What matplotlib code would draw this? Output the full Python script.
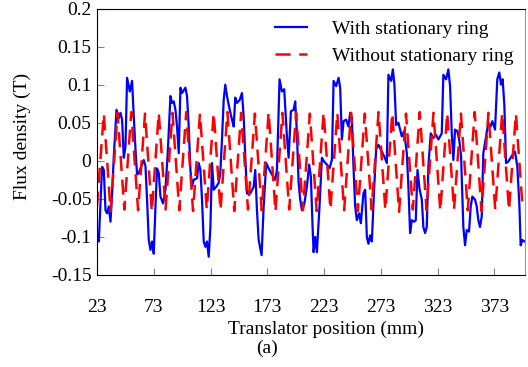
import numpy as np
import matplotlib
matplotlib.use("Agg")
import matplotlib.pyplot as plt

# Flux density with stationary ring (blue, solid)
blue_pos = [23.0, 24.6, 27.5, 29.0, 30.5, 31.9, 33.4, 34.9, 36.3, 37.8, 40.2, 42.2, 43.7, 45.1,
            46.6, 48.1, 49.5, 51.9, 53.9, 55.4, 56.9, 58.3, 59.8, 61.3, 64.2, 65.7, 67.1, 68.6,
            70.1, 71.5, 73.0, 74.5, 75.9, 77.4, 78.9, 81.2, 83.3, 85.3, 87.7, 89.1, 90.6, 92.1,
            93.5, 95.0, 96.5, 97.9, 100.9, 102.3, 103.8, 105.3, 106.7, 108.2, 111.1, 112.6, 114.1,
            115.5, 117.0, 118.5, 119.9, 121.4, 122.9, 124.3, 125.8, 128.1, 130.2, 131.6, 133.1,
            134.6, 136.0, 137.5, 139.9, 141.9, 143.4, 144.8, 146.3, 148.7, 150.7, 152.2, 153.6,
            155.1, 158.0, 161.0, 162.4, 163.9, 165.4, 168.0, 169.8, 172.1, 174.2, 177.1, 180.0,
            181.5, 183.8, 185.9, 187.9, 190.3, 191.8, 193.8, 196.2, 197.6, 199.1, 200.6, 202.0,
            203.5, 205.5, 207.9, 209.9, 211.4, 212.9, 213.8, 215.2, 216.7, 219.0, 221.1, 223.1,
            225.5, 227.8, 229.9, 231.4, 233.7, 235.8, 237.2, 238.7, 240.2, 242.5, 244.5, 246.0,
            247.5, 248.9, 250.4, 251.9, 253.9, 255.4, 257.7, 259.2, 260.7, 262.1, 263.6, 265.1,
            267.1, 268.9, 270.9, 273.9, 275.9, 278.3, 279.7, 282.1, 283.6, 285.0, 286.5, 288.5,
            290.0, 291.5, 293.5, 295.9, 297.3, 298.8, 300.3, 302.3, 303.8, 305.3, 307.0, 309.1,
            310.5, 312.0, 313.5, 314.9, 317.0, 319.3, 321.7, 323.7, 326.7, 328.1, 330.5, 332.5,
            334.0, 335.5, 336.9, 338.4, 340.4, 342.2, 343.7, 345.7, 347.2, 348.7, 350.7, 352.2,
            353.6, 356.0, 357.5, 358.9, 360.4, 361.9, 363.3, 365.7, 367.7, 369.8, 371.2, 373.6,
            375.6, 377.4, 378.9, 380.3, 381.8, 383.3, 385.3, 388.2, 391.2, 393.2, 395.0, 396.2,
            397.6, 399.4, 400.0]
blue_flux = [-0.100, -0.106, -0.008, -0.012, -0.065, -0.069, -0.060, -0.080, -0.043, 0.006, 0.067,
             0.056, 0.063, 0.054, 0.004, 0.019, 0.109, 0.091, 0.105, 0.058, 0.015, -0.018, -0.016,
             -0.010, 0.001, -0.007, -0.051, -0.104, -0.117, -0.106, -0.122, -0.060, -0.010, -0.016,
             -0.047, -0.056, -0.038, 0.010, 0.085, 0.076, 0.078, 0.067, 0.045, 0.010, 0.096, 0.089,
             0.096, 0.085, 0.045, -0.012, -0.034, -0.025, -0.023, -0.003, -0.012, -0.051, -0.106,
             -0.113, -0.106, -0.126, -0.087, -0.003, -0.038, -0.034, -0.029, -0.016, 0.028, 0.080,
             0.100, 0.085, 0.067, 0.054, 0.045, 0.083, 0.076, 0.080, 0.089, 0.058, 0.006, -0.043,
             -0.043, -0.034, -0.012, -0.065, -0.104, -0.124, -0.060, -0.003, -0.010, -0.018, -0.025,
             -0.012, 0.107, 0.091, 0.094, 0.032, 0.004, 0.065, 0.067, 0.078, 0.036, -0.029, -0.051,
             -0.065, -0.058, -0.034, -0.005, -0.021, -0.087, -0.120, -0.100, -0.120, -0.060, 0.004,
             -0.001, -0.005, -0.010, 0.001, 0.105, 0.098, 0.109, 0.096, 0.028, 0.052, 0.054, 0.045,
             0.063, 0.056, -0.007, -0.060, -0.078, -0.069, -0.082, -0.043, -0.038, -0.100, -0.109,
             -0.098, -0.106, -0.038, 0.015, 0.021, 0.012, 0.006, -0.003, 0.113, 0.105, 0.120, 0.100,
             0.047, 0.050, 0.041, 0.032, 0.039, 0.010, -0.034, -0.095, -0.078, -0.080, -0.078,
             -0.012, -0.036, -0.051, -0.087, -0.095, -0.087, -0.007, 0.036, 0.030, 0.034, 0.028,
             0.036, 0.113, 0.107, 0.120, 0.098, 0.036, 0.001, 0.041, 0.039, 0.026, 0.006, -0.087,
             -0.111, -0.091, -0.093, -0.060, -0.047, -0.051, -0.060, -0.078, -0.087, -0.073, 0.010,
             0.032, 0.050, 0.045, 0.052, 0.041, 0.107, 0.116, 0.100, 0.107, 0.074, -0.003, -0.001,
             0.006, 0.012, -0.007, -0.056, -0.111, -0.104, -0.106, -0.106]

# Flux density without stationary ring (red, dashed): peaks and troughs
red_peak_pos = [29.0, 41.1, 53.2, 65.3, 77.4, 89.5, 101.6, 113.7, 125.8, 137.9, 150.0, 162.1,
                174.2, 186.3, 198.4, 210.5, 222.6, 234.7, 246.8, 258.9, 271.0, 283.1, 295.2,
                307.3, 319.4, 331.5, 343.6, 355.7, 367.8, 379.9, 392.0]
red_peak_flux = [0.062, 0.063, 0.064, 0.062, 0.063, 0.063, 0.064, 0.062, 0.063, 0.064, 0.063,
                 0.062, 0.064, 0.063, 0.063, 0.062, 0.064, 0.063, 0.063, 0.062, 0.064, 0.063,
                 0.062, 0.064, 0.063, 0.063, 0.062, 0.064, 0.063, 0.063, 0.062]
red_trough_pos = [23.0, 35.0, 47.1, 59.2, 71.3, 83.4, 95.5, 107.6, 119.7, 131.8, 143.9, 156.0,
                  168.1, 180.2, 192.3, 204.4, 216.5, 228.6, 240.7, 252.8, 264.9, 277.0, 289.1,
                  301.2, 313.3, 325.4, 337.5, 349.6, 361.7, 373.8, 385.9, 398.0]
red_trough_flux = [-0.060, -0.066, -0.064, -0.065, -0.067, -0.064, -0.065, -0.066, -0.064,
                   -0.065, -0.066, -0.064, -0.065, -0.067, -0.064, -0.065, -0.066, -0.064,
                   -0.065, -0.066, -0.064, -0.065, -0.067, -0.064, -0.065, -0.066, -0.064,
                   -0.065, -0.066, -0.064, -0.065, -0.064]

x_ticks = [23, 73, 123, 173, 223, 273, 323, 373]
y_ticks = [-0.15, -0.1, -0.05, 0, 0.05, 0.1, 0.15, 0.2]
y_tick_labels = ['-0.15', '-0.1', '-0.05', '0', '0.05', '0.1', '0.15', '0.2']

plt.rcParams['font.family'] = ['Liberation Serif', 'DejaVu Serif']

red_pos = np.array(red_trough_pos + red_peak_pos)
red_flux = np.array(red_trough_flux + red_peak_flux)
order = np.argsort(red_pos)
red_pos, red_flux = red_pos[order], red_flux[order]

fig = plt.figure(figsize=(5.28, 3.67), dpi=100)
ax = fig.add_axes([0.1837, 0.2507, 0.8106, 0.7261])

ax.plot(blue_pos, blue_flux, color='#0000ff', lw=1.6, label='With stationary ring')
ax.plot(red_pos, red_flux, color='#ff0000', lw=1.8, dashes=(6, 3.5), label='Without stationary ring')

ax.set_xlim(23, 400)
ax.set_ylim(-0.15, 0.2)
ax.set_xticks(x_ticks)
ax.set_yticks(y_ticks)
ax.set_yticklabels(y_tick_labels)
ax.tick_params(axis='both', direction='in', length=5, labelsize=14, color='#808080')
ax.tick_params(axis='x', pad=17)
ax.tick_params(axis='y', pad=4)
for s in ['left', 'bottom', 'top']:
    ax.spines[s].set_color('black')
ax.spines['right'].set_color('#999999')

ax.set_xlabel('Translator position (mm)', fontsize=14, labelpad=0)
ax.xaxis.set_label_coords(0.535, -0.17)
ax.set_ylabel('Flux density (T)', fontsize=14)
ax.yaxis.set_label_coords(-0.155, 0.52)
fig.text(0.505, 0.05, '(a)', fontsize=14, ha='center', va='center')

ax.legend(loc='upper right', bbox_to_anchor=(1.0, 1.0), frameon=False, fontsize=14,
          handlelength=1.6, handletextpad=1.3, labelspacing=0.5, borderaxespad=0.2)

fig.savefig('out.png', dpi=100)
